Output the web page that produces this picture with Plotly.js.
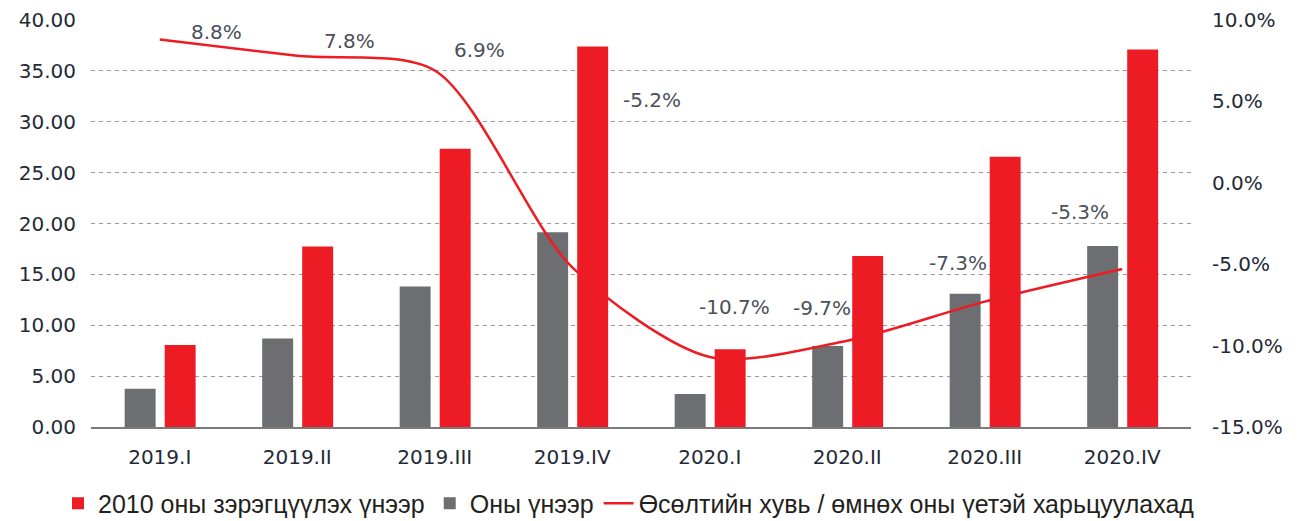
<!DOCTYPE html>
<html>
<head>
<meta charset="utf-8">
<script src="https://cdn.plot.ly/plotly-3.0.1.min.js"></script>
<style>html,body{margin:0;padding:0;background:#fff;}#chart{width:1299px;height:521px;}</style>
</head>
<body>
<div id="chart"></div>
<script>
// ---- data ----
const categories = ["2019.I","2019.II","2019.III","2019.IV","2020.I","2020.II","2020.III","2020.IV"];
const realValues = [8.05, 17.75, 27.35, 37.4, 7.65, 16.8, 26.55, 37.1];      // 2010 оны зэрэгцүүлэх үнээр
const nominalValues = [3.75, 8.7, 13.8, 19.15, 3.25, 7.95, 13.1, 17.8];     // Оны үнээр
const growthPct = [8.8, 7.8, 6.9, -5.2, -10.7, -9.7, -7.3, -5.3];          // Өсөлтийн хувь
const seriesNames = ["2010 оны зэрэгцүүлэх үнээр", "Оны үнээр", "Өсөлтийн хувь / өмнөх оны үетэй харьцуулахад"];
const rightTickValues = [-15, -10, -5, 0, 5, 10];
const rightTickLabels = ["-15.0%", "-10.0%", "-5.0%", "0.0%", "5.0%", "10.0%"];

// ---- styling / layout helpers ----
const RED = "#ed1c24", GREY = "#6d6e71";
const axisFont = {family: "DejaVu Sans, sans-serif", size: 20, color: "#1f2a37"};
// label offsets (px) relative to each line point
const labelDx = [57, 52, 45, 80, 25, -25, -27, -42];
const labelDy = [8, 15, 20, 167, 50, 33, 39, 57];

const traces = [
  {type: "bar", name: seriesNames[1], x: categories, y: nominalValues,
   marker: {color: GREY}, width: 0.225, offset: -0.255, legendrank: 2, hoverinfo: "y"},
  {type: "bar", name: seriesNames[0], x: categories, y: realValues,
   marker: {color: RED}, width: 0.225, offset: 0.036, legendrank: 1, hoverinfo: "y"},
  {type: "scatter", mode: "lines", name: seriesNames[2], x: categories, y: growthPct, yaxis: "y2",
   line: {color: RED, width: 2.5, shape: "spline", smoothing: 0.8}, legendrank: 3}
];

const annotations = growthPct.map((v, i) => ({
  x: categories[i], y: v, xref: "x", yref: "y2", showarrow: false,
  text: v.toFixed(1) + "%", xshift: labelDx[i], yshift: labelDy[i],
  font: {family: "DejaVu Sans, sans-serif", size: 20, color: "#4b5058"}
}));

const layout = {
  width: 1299, height: 521,
  margin: {l: 91, r: 108, t: 20, b: 94, autoexpand: false},
  paper_bgcolor: "#fff", plot_bgcolor: "#fff",
  barmode: "overlay",
  showlegend: true,
  legend: {orientation: "h", x: -0.03, xanchor: "left", y: -0.188, yanchor: "middle",
           font: {family: "Liberation Sans, Arial, sans-serif", size: 25, color: "#231f20"},
           traceorder: "normal", itemwidth: 30},
  xaxis: {type: "category", showline: true, linecolor: "#7a7a7a", linewidth: 2,
          ticks: "", tickfont: axisFont, ticklabelstandoff: 11, showgrid: false, fixedrange: true},
  yaxis: {range: [0, 40], dtick: 5, tickformat: ".2f", tickfont: axisFont,
          showgrid: true, gridcolor: "#9b9b9b", gridwidth: 1, griddash: "4px,4px",
          zeroline: false, ticks: "", ticklabelstandoff: 14, fixedrange: true},
  yaxis2: {range: [-15, 10], tickmode: "array", tickvals: rightTickValues, ticktext: rightTickLabels,
           overlaying: "y", side: "right",
           showgrid: false, zeroline: false, tickfont: axisFont, ticks: "", ticklabelstandoff: 20, fixedrange: true},
  annotations: annotations
};

Plotly.newPlot("chart", traces, layout, {displayModeBar: false, staticPlot: true});
</script>
</body>
</html>
